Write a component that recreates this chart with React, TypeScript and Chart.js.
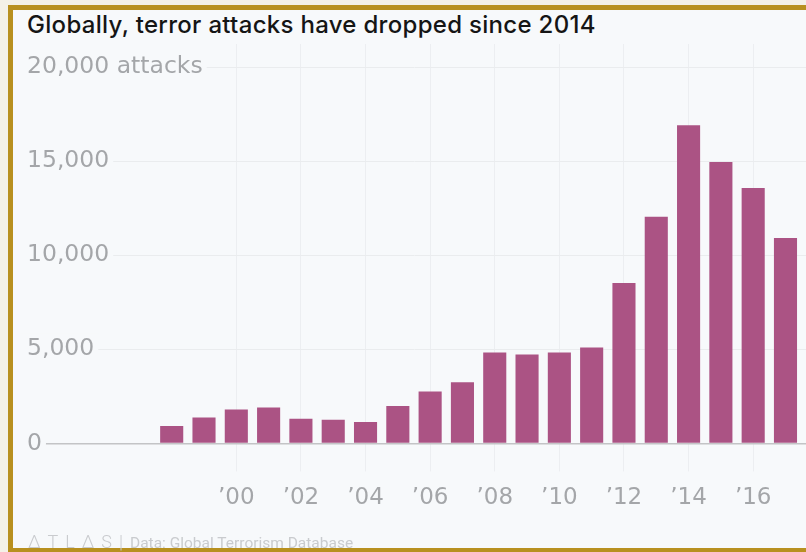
import React, { useEffect, useRef } from "react";
import { Chart, registerables } from "chart.js";

Chart.register(...registerables);

const years = [1998, 1999, 2000, 2001, 2002, 2003, 2004, 2005, 2006, 2007, 2008, 2009, 2010, 2011, 2012, 2013, 2014, 2015, 2016, 2017];
const attacks = [930, 1370, 1800, 1910, 1310, 1260, 1140, 1990, 2760, 3250, 4830, 4720, 4830, 5090, 8520, 12040, 16910, 14950, 13570, 10910];
const xTickYears = [2000, 2002, 2004, 2006, 2008, 2010, 2012, 2014, 2016];
const yTickValues = [0, 5000, 10000, 15000, 20000];

const TITLE = "Globally, terror attacks have dropped since 2014";
const SOURCE = "Data: Global Terrorism Database";
const PANEL_BG = "#f7f9fb";
const GOLD = "#b8901f";
const TICK_FONT = "'DejaVu Sans', sans-serif";

function formatY(v: number): string {
  const s = v.toLocaleString("en-US");
  return v === 20000 ? s + " attacks" : s;
}

function formatX(v: number): string {
  return "\u2019" + String(v).slice(2);
}

export default function App() {
  const canvasRef = useRef<HTMLCanvasElement | null>(null);

  useEffect(() => {
    const canvas = canvasRef.current;
    if (!canvas) return;
    const chart = new Chart(canvas, {
      type: "bar",
      data: {
        datasets: [
          {
            data: years.map((y, i) => ({ x: y, y: attacks[i] })),
            backgroundColor: "#ab5384",
            borderWidth: 0,
            barPercentage: 0.715,
            categoryPercentage: 1,
          },
        ],
      },
      options: {
        responsive: false,
        animation: false,
        events: [],
        layout: { padding: { left: 15, right: 0, top: 44, bottom: 27 } },
        plugins: { legend: { display: false }, tooltip: { enabled: false }, title: { display: false } },
        scales: {
          x: {
            type: "linear",
            offset: false,
            min: 1993.397,
            max: 2017.635,
            afterBuildTicks: (axis: any) => {
              axis.ticks = xTickYears.map((v) => ({ value: v }));
            },
            grid: {
              offset: false,
              color: "#eceef1",
              tickColor: "#eceef1",
              drawTicks: true,
              tickLength: 28,
              lineWidth: 1,
            },
            border: { display: false },
            ticks: {
              padding: 13,
              color: "#a4a6a9",
              font: { family: TICK_FONT, size: 23 },
              callback: (v: any) => formatX(Number(v)),
              maxRotation: 0,
              autoSkip: false,
            },
          },
          y: {
            min: 0,
            max: 21223,
            afterBuildTicks: (axis: any) => {
              axis.ticks = yTickValues.map((v) => ({ value: v }));
            },
            grid: {
              drawTicks: false,
              color: (ctx: any) => (ctx.tick && ctx.tick.value === 0 ? "#c3c4c6" : "#eaecee"),
              lineWidth: (ctx: any) => (ctx.tick && ctx.tick.value === 0 ? 1.5 : 1),
            },
            border: { display: false },
            ticks: {
              mirror: true,
              padding: 4,
              color: "#a4a6a9",
              font: { family: TICK_FONT, size: 23.5 },
              showLabelBackdrop: true,
              backdropColor: PANEL_BG,
              backdropPadding: { top: 2, bottom: 2, left: 10, right: 4 },
              callback: (v: any) => formatY(Number(v)),
            },
          },
        },
      } as any,
    });
    return () => chart.destroy();
  }, []);

  return (
    <div style={{ position: "fixed", left: 0, top: 0, width: 806, height: 552, overflow: "hidden", background: "#f4f1e7" }}>
      <div
        style={{
          position: "absolute",
          left: 8,
          top: 5,
          width: 830,
          height: 547,
          boxSizing: "border-box",
          borderTop: `5px solid ${GOLD}`,
          borderLeft: `5px solid ${GOLD}`,
          borderBottom: `4px solid ${GOLD}`,
          background: PANEL_BG,
        }}
      />
      <div
        style={{
          position: "absolute",
          left: 27,
          top: 10,
          fontFamily: "Inter, 'Noto Sans', sans-serif",
          fontSize: 24,
          fontWeight: 500,
          letterSpacing: 0.3,
          color: "#151515",
          whiteSpace: "nowrap",
          lineHeight: "29px",
        }}
      >
        {TITLE}
      </div>
      <div style={{ position: "absolute", left: 0, top: 0, width: 806, height: 552 }}>
        <canvas ref={canvasRef} width={806} height={552} style={{ width: 806, height: 552, display: "block" }} />
      </div>
      <div
        style={{
          position: "absolute",
          left: 28,
          top: 531,
          fontFamily: "Roboto, sans-serif",
          color: "#c9cbce",
          whiteSpace: "nowrap",
          display: "flex",
          alignItems: "baseline",
        }}
      >
        <span style={{ fontSize: 18, letterSpacing: 7, fontWeight: 300 }}>ΔTLΔS</span>
        <span style={{ fontSize: 18, marginRight: 7, fontWeight: 300 }}>|</span>
        <span style={{ fontSize: 15.5 }}>{SOURCE}</span>
      </div>
    </div>
  );
}
